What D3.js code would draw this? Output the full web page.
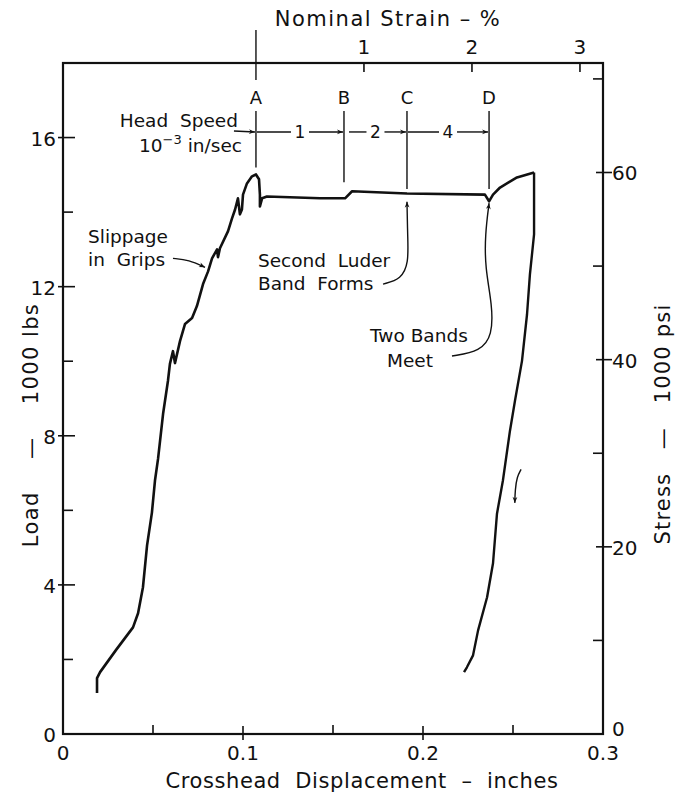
<!DOCTYPE html>
<html>
<head>
<meta charset="utf-8">
<script src="https://cdn.jsdelivr.net/npm/d3@7"></script>
<style>
  body { margin: 0; background: #fff; }
  text { font-family: "DejaVu Sans", sans-serif; fill: #111; white-space: pre; }
</style>
</head>
<body>
<div id="chart"></div>
<script>
// frame constants
const FRAME_WIDTH = 675;
const FRAME_HEIGHT = 796;
const MARGINS = {left: 63, right: 72, top: 63, bottom: 62};

// loading curve: crosshead displacement (in) and load (1000 lbs)
const loadDisp = [0.0189, 0.0189, 0.0206, 0.0294, 0.0389, 0.0417, 0.0444, 0.0467, 0.0494, 0.0511,
                  0.0528, 0.0556, 0.0583, 0.0594, 0.0611, 0.0622, 0.0650, 0.0678, 0.0717, 0.0744,
                  0.0778, 0.0806, 0.0828, 0.0856, 0.0861, 0.0872, 0.0917, 0.0939, 0.0956, 0.0972,
                  0.0983, 0.0994, 0.1000, 0.1022, 0.1050, 0.1072, 0.1089, 0.1094, 0.1094, 0.1106,
                  0.1133, 0.1428, 0.1567, 0.1606, 0.1911, 0.2344, 0.2367, 0.2389, 0.2428, 0.2522,
                  0.2617];
const loadKips = [1.10, 1.50, 1.66, 2.25, 2.86, 3.24, 3.93, 5.06, 5.94, 6.80,
                  7.38, 8.59, 9.47, 9.93, 10.27, 9.95, 10.54, 11.00, 11.16, 11.48,
                  12.07, 12.41, 12.76, 13.00, 12.79, 13.03, 13.49, 13.83, 14.07, 14.37,
                  13.94, 14.07, 14.47, 14.77, 14.96, 15.01, 14.88, 14.47, 14.15, 14.37,
                  14.42, 14.37, 14.37, 14.56, 14.50, 14.47, 14.29, 14.47, 14.66, 14.93,
                  15.06];

// unloading curve
const unloadDisp = [0.2617, 0.2617, 0.2594, 0.2578, 0.2550, 0.2511, 0.2483, 0.2444,
                    0.2411, 0.2389, 0.2356, 0.2306, 0.2278, 0.2244, 0.2228];
const unloadKips = [15.06, 13.40, 12.33, 11.26, 10.01, 8.94, 8.13, 6.80,
                    5.91, 4.58, 3.67, 2.78, 2.11, 1.79, 1.66];

// ticks
const xTicks = [0, 0.1, 0.2, 0.3];
const xTickLabels = ["0", "0.1", "0.2", "0.3"];
const xMinorTicks = [0.05, 0.15, 0.25];
const loadTicks = [0, 4, 8, 12, 16];
const loadMinorTicks = [2, 6, 10, 14];
const stressTicks = [0, 20, 40, 60];
const stressMinorTicks = [10, 30, 50, 70];
const strainTicks = [1, 2, 3];

// head speed change points
const markerNames = ["A", "B", "C", "D"];
const markerDisp = [0.1072, 0.1561, 0.1911, 0.2367];
const markerEndLoad = [15.2, 14.8, 14.62, 14.62];
const headSpeeds = ["1", "2", "4"];

const STRAIN_ZERO = markerDisp[0];   // strain measured from A
const INCH_PER_PCT = 0.06;

const FRAME = d3.select("#chart")
  .append("svg")
  .attr("width", FRAME_WIDTH)
  .attr("height", FRAME_HEIGHT);

const X_SCALE = d3.scaleLinear().domain([0, 0.3])
  .range([MARGINS.left, FRAME_WIDTH - MARGINS.right]);
const Y_SCALE = d3.scaleLinear().domain([0, 18])
  .range([FRAME_HEIGHT - MARGINS.bottom, MARGINS.top]);
const S_SCALE = d3.scaleLinear().domain([0, 71.7])
  .range([FRAME_HEIGHT - MARGINS.bottom, MARGINS.top]);
const STRAIN_SCALE = d3.scaleLinear()
  .domain([-STRAIN_ZERO / INCH_PER_PCT, (0.3 - STRAIN_ZERO) / INCH_PER_PCT])
  .range([MARGINS.left, FRAME_WIDTH - MARGINS.right]);

const X0 = X_SCALE.range()[0], X1 = X_SCALE.range()[1];
const Y0 = Y_SCALE.range()[0], Y1 = Y_SCALE.range()[1];

// arrow head
FRAME.append("defs").append("marker")
  .attr("id", "arrow")
  .attr("viewBox", "0 0 10 10")
  .attr("refX", 10).attr("refY", 5)
  .attr("markerWidth", 8).attr("markerHeight", 6)
  .attr("markerUnits", "userSpaceOnUse")
  .attr("orient", "auto")
  .append("path")
  .attr("d", "M0,1 L10,5 L0,9 L3,5 z")
  .attr("fill", "#111");

// frame
FRAME.append("rect")
  .attr("x", X0).attr("y", Y1)
  .attr("width", X1 - X0).attr("height", Y0 - Y1)
  .attr("fill", "none").attr("stroke", "#111").attr("stroke-width", 2.2);

const tickG = FRAME.append("g").attr("stroke", "#111").attr("stroke-width", 1.6);

// bottom ticks
tickG.selectAll(".xmaj").data(xTicks.slice(1, 3)).enter().append("line")
  .attr("x1", d => X_SCALE(d)).attr("x2", d => X_SCALE(d))
  .attr("y1", Y0 - 8).attr("y2", Y0 + 6);
tickG.selectAll(".xmin").data(xMinorTicks).enter().append("line")
  .attr("x1", d => X_SCALE(d)).attr("x2", d => X_SCALE(d))
  .attr("y1", Y0 - 9).attr("y2", Y0);

// left ticks
tickG.selectAll(".ymaj").data(loadTicks.slice(1)).enter().append("line")
  .attr("x1", X0 - 5).attr("x2", X0 + 12)
  .attr("y1", d => Y_SCALE(d)).attr("y2", d => Y_SCALE(d));
tickG.selectAll(".ymin").data(loadMinorTicks).enter().append("line")
  .attr("x1", X0).attr("x2", X0 + 10)
  .attr("y1", d => Y_SCALE(d)).attr("y2", d => Y_SCALE(d));

// right ticks
tickG.selectAll(".smaj").data(stressTicks.slice(1)).enter().append("line")
  .attr("x1", X1 - 7).attr("x2", X1 + 9)
  .attr("y1", d => S_SCALE(d)).attr("y2", d => S_SCALE(d));
tickG.selectAll(".smin").data(stressMinorTicks).enter().append("line")
  .attr("x1", X1 - 10).attr("x2", X1)
  .attr("y1", d => S_SCALE(d)).attr("y2", d => S_SCALE(d));

// top ticks
tickG.selectAll(".tmaj").data(strainTicks).enter().append("line")
  .attr("x1", d => STRAIN_SCALE(d)).attr("x2", d => STRAIN_SCALE(d))
  .attr("y1", Y1).attr("y2", Y1 + 9);

// tick labels
FRAME.selectAll(".xlab").data(xTicks).enter().append("text")
  .attr("x", d => X_SCALE(d)).attr("y", Y0 + 26)
  .attr("text-anchor", "middle").attr("font-size", 20)
  .text((d, i) => xTickLabels[i]);
FRAME.selectAll(".ylab").data(loadTicks).enter().append("text")
  .attr("x", X0 - 7).attr("y", d => Y_SCALE(d) + 8)
  .attr("text-anchor", "end").attr("font-size", 20)
  .text(d => d);
FRAME.selectAll(".slab").data(stressTicks).enter().append("text")
  .attr("x", X1 + 9).attr("y", d => d === 0 ? S_SCALE(d) + 2 : S_SCALE(d) + 8)
  .attr("text-anchor", "start").attr("font-size", 20)
  .text(d => d);
FRAME.selectAll(".tlab").data(strainTicks).enter().append("text")
  .attr("x", d => STRAIN_SCALE(d)).attr("y", Y1 - 9)
  .attr("text-anchor", "middle").attr("font-size", 20)
  .text(d => d);

// axis titles
FRAME.append("text")
  .attr("x", 388).attr("y", 26)
  .attr("text-anchor", "middle").attr("font-size", 21)
  .attr("letter-spacing", 1.5)
  .text("Nominal Strain – %");
FRAME.append("text")
  .attr("x", 362).attr("y", 788)
  .attr("text-anchor", "middle").attr("font-size", 21)
  .attr("letter-spacing", 0.6)
  .text("Crosshead  Displacement  –  inches");
FRAME.append("text")
  .attr("transform", "translate(38,425) rotate(-90)")
  .attr("text-anchor", "middle").attr("font-size", 21)
  .attr("letter-spacing", 1.4)
  .text("Load    —    1000 lbs");
FRAME.append("text")
  .attr("transform", "translate(670,424) rotate(-90)")
  .attr("text-anchor", "middle").attr("font-size", 21)
  .attr("letter-spacing", 1.2)
  .text("Stress   —   1000 psi");

// data curves
const line = d3.line()
  .x(d => X_SCALE(d[0]))
  .y(d => Y_SCALE(d[1]));

FRAME.append("path")
  .datum(d3.zip(loadDisp, loadKips))
  .attr("d", line)
  .attr("fill", "none").attr("stroke", "#111")
  .attr("stroke-width", 2.6).attr("stroke-linejoin", "round");

FRAME.append("path")
  .datum(d3.zip(unloadDisp, unloadKips))
  .attr("d", line)
  .attr("fill", "none").attr("stroke", "#111")
  .attr("stroke-width", 2.4).attr("stroke-linejoin", "round");

// head speed markers A-D
const ROW_LOAD = 16.15;
const rowY = Y_SCALE(ROW_LOAD);
const annG = FRAME.append("g").attr("stroke", "#111").attr("stroke-width", 1.4).attr("fill", "none");

annG.append("line")
  .attr("x1", X_SCALE(markerDisp[0])).attr("x2", X_SCALE(markerDisp[0]))
  .attr("y1", 30).attr("y2", 80);
annG.selectAll(".mk").data(markerDisp).enter().append("line")
  .attr("x1", d => X_SCALE(d)).attr("x2", d => X_SCALE(d))
  .attr("y1", 111).attr("y2", (d, i) => Y_SCALE(markerEndLoad[i]));

FRAME.selectAll(".mklab").data(markerDisp).enter().append("text")
  .attr("x", d => X_SCALE(d)).attr("y", 104)
  .attr("text-anchor", "middle").attr("font-size", 18)
  .text((d, i) => markerNames[i]);

// interval arrows with head speed
headSpeeds.forEach((s, i) => {
  const xa = X_SCALE(markerDisp[i]);
  const xb = X_SCALE(markerDisp[i + 1]);
  const xm = (xa + xb) / 2;
  annG.append("line")
    .attr("x1", xa + (i === 1 ? 5 : 1)).attr("x2", xm - 9)
    .attr("y1", rowY).attr("y2", rowY);
  annG.append("line")
    .attr("x1", xm + 9).attr("x2", xb - 1)
    .attr("y1", rowY).attr("y2", rowY)
    .attr("marker-end", "url(#arrow)");
  FRAME.append("text")
    .attr("x", xm).attr("y", rowY + 6)
    .attr("text-anchor", "middle").attr("font-size", 17)
    .text(s);
});

// head speed note
annG.append("line")
  .attr("x1", X_SCALE(markerDisp[0]) - 22).attr("x2", X_SCALE(markerDisp[0]) - 1)
  .attr("y1", rowY - 1).attr("y2", rowY)
  .attr("marker-end", "url(#arrow)");
FRAME.append("text")
  .attr("x", X_SCALE(markerDisp[0]) - 18).attr("y", rowY - 5)
  .attr("text-anchor", "end").attr("font-size", 18.5)
  .text("Head  Speed");
const hs = FRAME.append("text")
  .attr("x", X_SCALE(markerDisp[0]) - 14).attr("y", rowY + 20)
  .attr("text-anchor", "end").attr("font-size", 18.5);
hs.append("tspan").text("10");
hs.append("tspan").attr("dy", -8).attr("font-size", 13).text("−3");
hs.append("tspan").attr("dy", 8).text(" in/sec");

// callouts
const curve = d3.line()
  .x(d => X_SCALE(d[0]))
  .y(d => Y_SCALE(d[1]))
  .curve(d3.curveBasis);

const slipArrow = [[0.0611, 12.76], [0.0700, 12.72], [0.0789, 12.52]];
const luderArrow = [[0.1778, 12.07], [0.1880, 12.20], [0.1920, 12.65], [0.1915, 13.3], [0.1911, 14.28]];
const meetArrow = [[0.2161, 10.14], [0.2320, 10.27], [0.2385, 10.70], [0.2385, 11.5],
                   [0.2345, 12.5], [0.2345, 13.4], [0.2367, 14.24]];
const unloadArrow = [[0.2545, 7.10], [0.2522, 6.90], [0.2512, 6.55], [0.2510, 6.20]];

[slipArrow, luderArrow, meetArrow, unloadArrow].forEach(a => {
  annG.append("path").attr("d", curve(a)).attr("marker-end", "url(#arrow)");
});

const notes = [
  {t: "Slippage", d: 0.0139, l: 13.18},
  {t: "in  Grips", d: 0.0139, l: 12.56},
  {t: "Second  Luder", d: 0.1083, l: 12.52},
  {t: "Band  Forms", d: 0.1083, l: 11.90},
  {t: "Two Bands", d: 0.1706, l: 10.52},
  {t: "Meet", d: 0.1800, l: 9.85}
];
FRAME.selectAll(".note").data(notes).enter().append("text")
  .attr("x", d => X_SCALE(d.d)).attr("y", d => Y_SCALE(d.l))
  .attr("font-size", 18.5)
  .text(d => d.t);
</script>
</body>
</html>
